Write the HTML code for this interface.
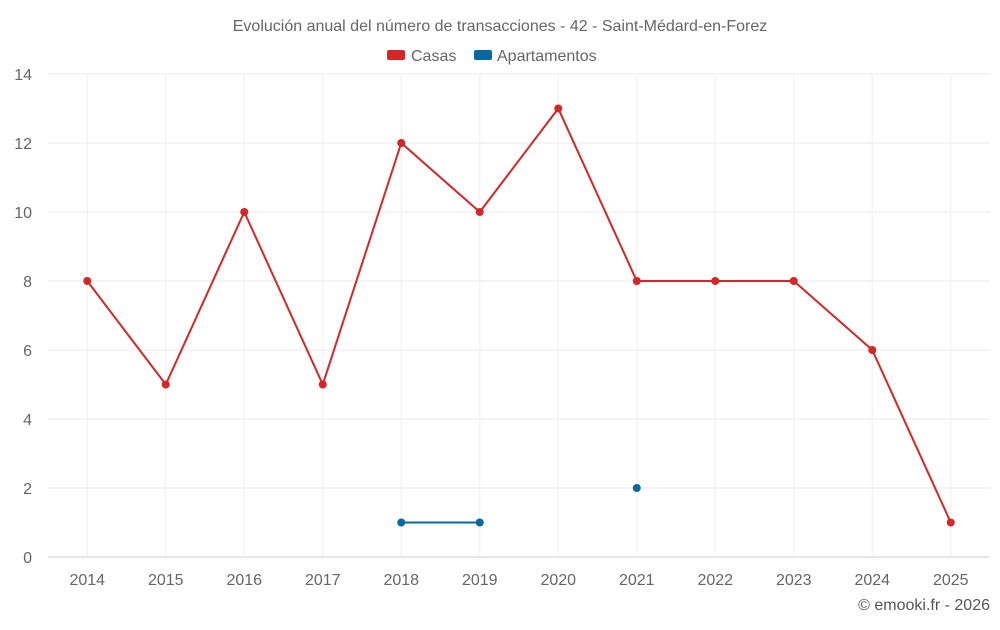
<!DOCTYPE html>
<html><head><meta charset="utf-8"><style>
body{margin:0;background:#fff;font-family:"Liberation Sans",sans-serif;}
svg text{font-family:"Liberation Sans",sans-serif;}
</style></head><body>
<svg id="chart" width="1000" height="625" xmlns="http://www.w3.org/2000/svg">
<text x="500" y="31" text-anchor="middle" font-size="16" fill="#666">Evolución anual del número de transacciones - 42 - Saint-Médard-en-Forez</text>
<g>
<g><rect x="387" y="50" width="18" height="10" rx="2" fill="#d62728"/><text x="411" y="61" font-size="16" fill="#666">Casas</text></g>
<g><rect x="474" y="50" width="18" height="10" rx="2" fill="#0868a0"/><text x="497" y="61" font-size="16" fill="#666">Apartamentos</text></g>
</g>
<g id="grid"></g><g id="axes"></g><g id="series"></g>
<text x="990" y="610" text-anchor="end" font-size="16" fill="#555">© emooki.fr - 2026</text>
</svg>
<script>
const categories=["2014","2015","2016","2017","2018","2019","2020","2021","2022","2023","2024","2025"];
const casas=[8,5,10,5,12,10,13,8,8,8,6,1];
const apartamentos=[null,null,null,null,1,1,null,2,null,null,null,null];
const yTicks=[0,2,4,6,8,10,12,14];
const NS="http://www.w3.org/2000/svg";
const L=48,R=990,T=74,B=557,yMax=14;
const band=(R-L)/categories.length;
const x=i=>L+band*(i+0.5);
const y=v=>B-(B-T)*v/yMax;
function mk(tag,attrs,parent){const e=document.createElementNS(NS,tag);for(const k in attrs)e.setAttribute(k,attrs[k]);document.getElementById(parent).appendChild(e);return e;}
yTicks.forEach(t=>{
const l=mk('line',{x1:L,x2:R,y1:y(t),y2:y(t),stroke:t===0?'#ccc':'#ebebeb','stroke-width':1},'grid');


const tx=mk('text',{x:32,y:y(t)+6,'text-anchor':'end','font-size':16,fill:'#666'},'axes');tx.textContent=t;


});
categories.forEach((c,i)=>{
const l=mk('line',{x1:x(i),x2:x(i),y1:T,y2:B,stroke:'#f0f0f0','stroke-width':1},'grid');


const tx=mk('text',{x:x(i),y:585,'text-anchor':'middle','font-size':16,fill:'#666'},'axes');tx.textContent=c;


});
function drawSeries(data,color,name){
let seg=[];const segs=[];
data.forEach((v,i)=>{if(v===null){if(seg.length)segs.push(seg);seg=[];}else seg.push([x(i),y(v)]);});
if(seg.length)segs.push(seg);
segs.forEach(s=>{if(s.length>1){const p=mk('polyline',{points:s.map(a=>a.join(',')).join(' '),fill:'none',stroke:color,'stroke-width':2},'series');

}});
data.forEach((v,i)=>{if(v===null)return;const c=mk('circle',{cx:x(i),cy:y(v),r:4,fill:color},'series');

});
}
drawSeries(casas,'#d62728','casas');
drawSeries(apartamentos,'#0868a0','apartamentos');
</script>
</body></html>
